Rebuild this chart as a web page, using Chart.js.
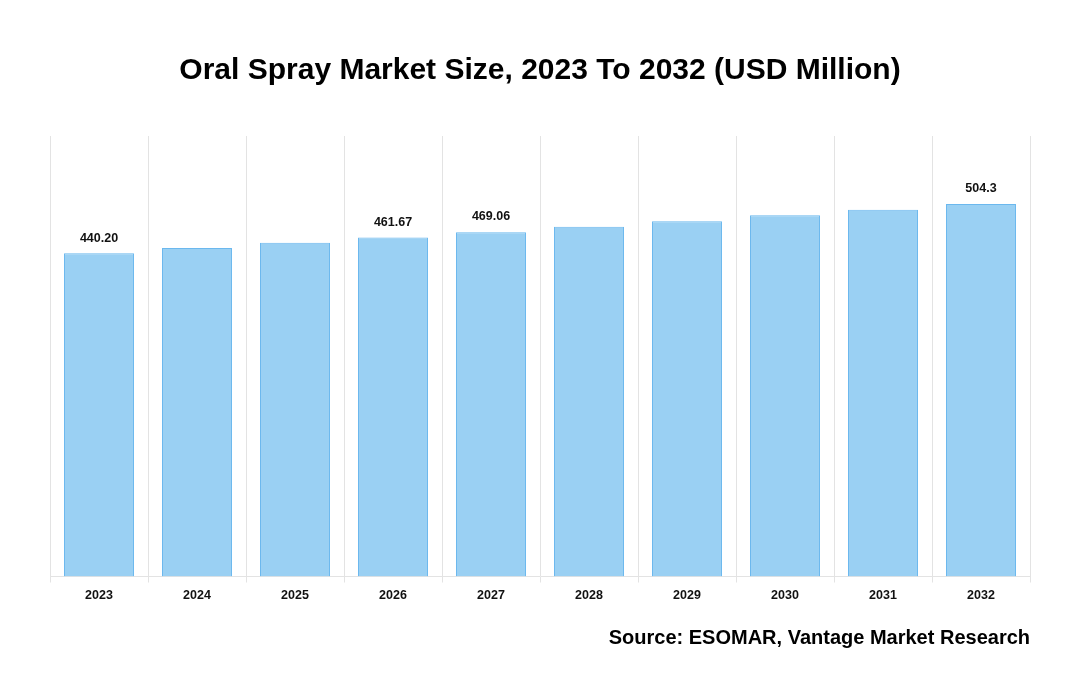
<!DOCTYPE html>
<html>
<head>
<meta charset="utf-8">
<script src="https://cdn.jsdelivr.net/npm/chart.js@4"></script>
<style>
  html, body { margin: 0; padding: 0; background: #fff; }
  #wrap { width: 1080px; height: 700px; position: relative; }
</style>
</head>
<body>
<div id="wrap"><canvas id="chart"></canvas></div>
<script>
  // chart data
  const years = ['2023', '2024', '2025', '2026', '2027', '2028', '2029', '2030', '2031', '2032'];
  const marketSize = [440.2, 447.3, 454.5, 461.67, 469.06, 476.3, 484.0, 492.2, 499.4, 507.5];
  const valueLabels = ['440.20', '', '', '461.67', '469.06', '', '', '', '', '504.3'];

  // draws the value text above the bars that have one
  const barLabels = {
    id: 'barLabels',
    afterDatasetsDraw(chart) {
      const ctx = chart.ctx;
      const meta = chart.getDatasetMeta(0);
      ctx.save();
      ctx.font = 'bold 12.5px "Liberation Sans", Arial, sans-serif';
      ctx.fillStyle = '#111';
      ctx.textAlign = 'center';
      ctx.textBaseline = 'bottom';
      meta.data.forEach((bar, i) => {
        if (valueLabels[i]) {
          ctx.fillText(valueLabels[i], bar.x, bar.y - 9);
        }
      });
      ctx.restore();
    }
  };

  document.addEventListener('DOMContentLoaded', function () {
    const ctx = document.getElementById('chart').getContext('2d');
    new Chart(ctx, {
      type: 'bar',
      data: {
        labels: years,
        datasets: [{
          label: 'Market Size',
          data: marketSize,
          backgroundColor: '#9ad0f3',
          borderColor: '#6bb8ee',
          borderWidth: 1,
          barPercentage: 0.714,
          categoryPercentage: 1
        }]
      },
      options: {
        responsive: true,
        maintainAspectRatio: false,
        animation: false,
        layout: {
          padding: { top: 53, left: 50, right: 50, bottom: 50 }
        },
        plugins: {
          legend: { display: false },
          tooltip: { enabled: false },
          title: {
            display: true,
            text: 'Oral Spray Market Size, 2023 To 2032 (USD Million)',
            color: '#000',
            font: { family: '"Liberation Sans", Arial, sans-serif', size: 30, weight: 'bold', lineHeight: 1.2 },
            padding: { top: 0, bottom: 47 }
          },
          subtitle: {
            display: true,
            position: 'bottom',
            align: 'end',
            text: 'Source: ESOMAR, Vantage Market Research',
            color: '#000',
            font: { family: '"Liberation Sans", Arial, sans-serif', size: 20, weight: 'bold', lineHeight: 1.2 },
            padding: { top: 16.5, bottom: 0 }
          }
        },
        scales: {
          x: {
            grid: {
              display: true,
              offset: true,
              color: '#e3e3e3',
              lineWidth: 1,
              tickLength: 6,
              drawOnChartArea: true
            },
            border: { display: true, color: '#e3e3e3' },
            ticks: {
              color: '#111',
              padding: 6,
              font: { family: '"Liberation Sans", Arial, sans-serif', size: 12.5, weight: 'bold' }
            }
          },
          y: {
            display: false,
            min: 0,
            max: 600
          }
        }
      },
      plugins: [barLabels]
    });
  });
</script>
</body>
</html>
